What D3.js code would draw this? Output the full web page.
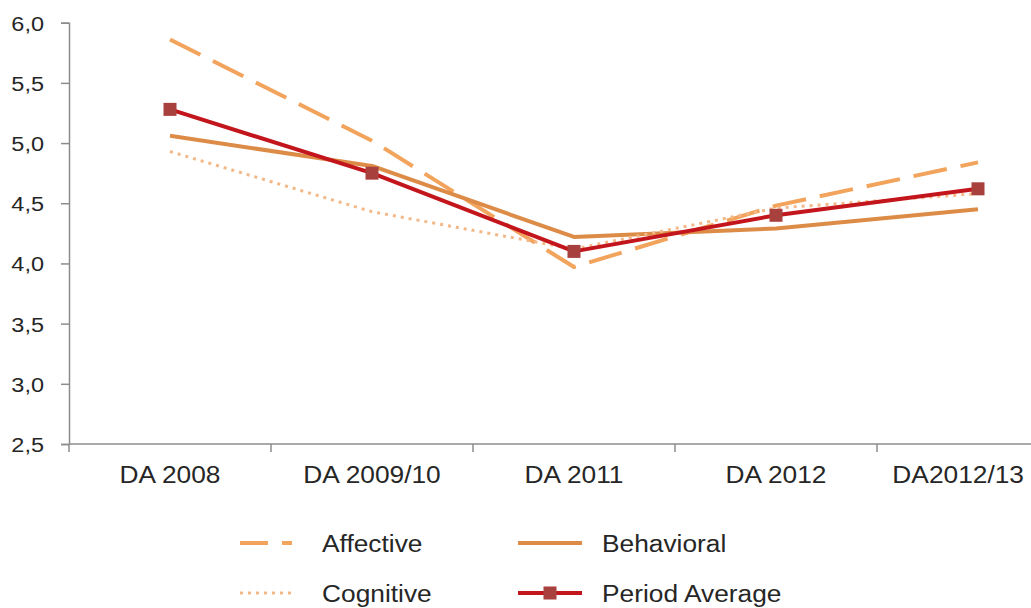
<!DOCTYPE html>
<html>
<head>
<meta charset="utf-8">
<script src="https://cdn.jsdelivr.net/npm/d3@7"></script>
<style>
  body { margin: 0; background: #fff; }
  text { font-family: "Liberation Sans", Arial, sans-serif; fill: #262626; }
</style>
</head>
<body>
<div id="chart-area"><svg></svg></div>
<script>
const categories = ["DA 2008", "DA 2009/10", "DA 2011", "DA 2012", "DA2012/13"];
const affective = [5.86, 5.02, 3.97, 4.48, 4.84];
const behavioral = [5.06, 4.81, 4.22, 4.29, 4.45];
const cognitive = [4.93, 4.43, 4.12, 4.46, 4.58];
const periodAverage = [5.28, 4.75, 4.10, 4.40, 4.62];
const yTicks = [2.5, 3.0, 3.5, 4.0, 4.5, 5.0, 5.5, 6.0];

const chartSize = { width: 1031, height: 608 };
const plot = { left: 69, right: 1079, top: 22.7, bottom: 444 };
const stretch = 1.12; // text in the source is a bit wide

const series = [
  { name: "Affective", values: affective, color: "#F2A35C", width: 4, dash: "34,14" },
  { name: "Behavioral", values: behavioral, color: "#DD8C48", width: 4, dash: null },
  { name: "Cognitive", values: cognitive, color: "#F3B887", width: 3, dash: "3,5" },
  { name: "Period Average", values: periodAverage, color: "#C3161C", width: 4, dash: null, marker: "#A8403E" }
];

const svg = d3.select("#chart-area svg")
  .attr("width", chartSize.width)
  .attr("height", chartSize.height);

const x = d3.scaleBand().domain(categories).range([plot.left, plot.right]).padding(0);
const y = d3.scaleLinear().domain([2.5, 6.0]).range([plot.bottom, plot.top]);
const cx = c => x(c) + x.bandwidth() / 2;

const wideText = (sel, tx, ty) =>
  sel.attr("x", 0).attr("y", 0)
    .attr("transform", (d, i) => `translate(${tx(d, i)},${ty(d, i)}) scale(${stretch},1)`);

// y axis
const yAxis = d3.axisLeft(y)
  .tickValues(yTicks)
  .tickSize(8)
  .tickPadding(17)
  .tickFormat(d => d3.format(".1f")(d).replace(".", ","));

const yG = svg.append("g")
  .attr("transform", `translate(${plot.left},0)`)
  .call(yAxis);
yG.select(".domain").attr("stroke", "#8c8c8c").attr("stroke-width", 1.5);
yG.selectAll(".tick line").attr("stroke", "#8c8c8c").attr("stroke-width", 1.5);
yG.selectAll(".tick text")
  .attr("font-size", 21)
  .attr("font-family", "Liberation Sans, Arial, sans-serif")
  .attr("fill", "#262626")
  .attr("dy", null)
  .call(wideText, () => -25, () => 7.5);

// x axis: line, boundary ticks, labels centred in bands
const xG = svg.append("g").attr("transform", `translate(0,${plot.bottom})`);
xG.append("line")
  .attr("x1", plot.left).attr("x2", plot.right)
  .attr("stroke", "#8c8c8c").attr("stroke-width", 1.5);
xG.selectAll(".bound")
  .data(categories)
  .join("line")
  .attr("class", "bound")
  .attr("x1", d => x(d)).attr("x2", d => x(d))
  .attr("y1", 0).attr("y2", 8)
  .attr("stroke", "#8c8c8c").attr("stroke-width", 1.5);
xG.selectAll(".xlab")
  .data(categories)
  .join("text")
  .attr("class", "xlab")
  .attr("text-anchor", (d, i) => i === categories.length - 1 ? "end" : "middle")
  .attr("font-size", 23.5)
  .text(d => d)
  .call(wideText, (d, i) => i === categories.length - 1 ? 1024 : cx(d), () => 39);

// lines
const line = d3.line()
  .x((v, i) => cx(categories[i]))
  .y(v => y(v));

series.forEach(s => {
  svg.append("path")
    .attr("d", line(s.values))
    .attr("fill", "none")
    .attr("stroke", s.color)
    .attr("stroke-width", s.width)
    .attr("stroke-dasharray", s.dash)
    .attr("stroke-linejoin", "round");
  if (s.marker) {
    svg.selectAll(null)
      .data(s.values)
      .join("rect")
      .attr("x", (v, i) => cx(categories[i]) - 6.5)
      .attr("y", v => y(v) - 6.5)
      .attr("width", 13)
      .attr("height", 13)
      .attr("fill", s.marker);
  }
});

// legend
const legendPos = [
  { x: 240, y: 543 },
  { x: 518, y: 543 },
  { x: 240, y: 593 },
  { x: 518, y: 593 }
];
const legendOrder = ["Affective", "Behavioral", "Cognitive", "Period Average"];
legendOrder.forEach((name, i) => {
  const s = series.find(d => d.name === name);
  const p = legendPos[i];
  const len = i % 2 === 0 ? 52 : 64;
  const g = svg.append("g").attr("transform", `translate(${p.x},${p.y})`);
  g.append("line")
    .attr("x1", 0).attr("x2", len)
    .attr("stroke", s.color)
    .attr("stroke-width", s.width)
    .attr("stroke-dasharray", name === "Affective" ? "28,14" : s.dash);
  if (s.marker) {
    g.append("rect")
      .attr("x", len / 2 - 6.5).attr("y", -6.5)
      .attr("width", 13).attr("height", 13)
      .attr("fill", s.marker);
  }
  g.append("text")
    .attr("font-size", 23.5)
    .text(name)
    .call(wideText, () => (i % 2 === 0 ? 82 : 84), () => 8.5);
});
</script>
</body>
</html>
